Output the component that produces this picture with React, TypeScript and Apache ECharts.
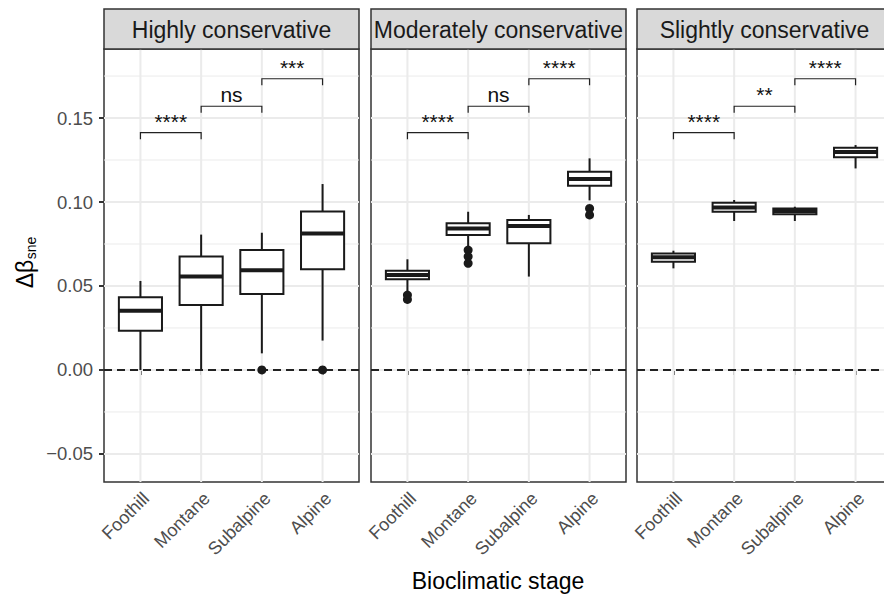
import React, { useEffect, useRef } from "react";
import * as echarts from "echarts";

const FONT = "'Liberation Sans', Arial, Helvetica, sans-serif";

const stages = ["Foothill", "Montane", "Subalpine", "Alpine"];
const panels = ["Highly conservative", "Moderately conservative", "Slightly conservative"];

// [lowerWhisker, Q1, median, Q3, upperWhisker] per stage
const highlyBoxes = [
  [0.0, 0.0234, 0.0353, 0.0433, 0.053],
  [0.0, 0.0387, 0.0556, 0.0675, 0.0806],
  [0.0099, 0.0452, 0.0593, 0.0714, 0.0817],
  [0.0175, 0.0599, 0.0813, 0.0944, 0.1107],
];
const moderatelyBoxes = [
  [0.0466, 0.054, 0.0565, 0.0591, 0.0659],
  [0.0734, 0.0804, 0.0843, 0.0873, 0.0942],
  [0.0556, 0.0754, 0.0857, 0.0893, 0.0923],
  [0.101, 0.1097, 0.1137, 0.118, 0.126],
];
const slightlyBoxes = [
  [0.0605, 0.0645, 0.0671, 0.0694, 0.071],
  [0.0887, 0.0942, 0.0968, 0.0996, 0.1012],
  [0.0887, 0.0927, 0.0946, 0.0962, 0.0972],
  [0.12, 0.1266, 0.1298, 0.1323, 0.1339],
];

// outliers: [stage position (1-4), value]
const highlyOutliers = [[3, 0], [4, 0]];
const moderatelyOutliers = [
  [1, 0.0446], [1, 0.042],
  [2, 0.0714], [2, 0.0675], [2, 0.0635],
  [4, 0.0962], [4, 0.0923],
];
const slightlyOutliers: number[][] = [];

// significance brackets
const bracketPairs = [[1, 2], [2, 3], [3, 4]];
const bracketY = [0.1413, 0.157, 0.1734];
const bracketTip = 0.0039;
const highlyLabels = ["****", "ns", "***"];
const moderatelyLabels = ["****", "ns", "****"];
const slightlyLabels = ["****", "**", "****"];

const yTicks = [-0.05, 0, 0.05, 0.1, 0.15];
const yMinor = [-0.025, 0.025, 0.075, 0.125, 0.175];
const xTicks = [1, 2, 3, 4];

const Y_MIN = -0.0667;
const Y_MAX = 0.1911;

const boxSets = [highlyBoxes, moderatelyBoxes, slightlyBoxes];
const outlierSets = [highlyOutliers, moderatelyOutliers, slightlyOutliers];
const labelSets = [highlyLabels, moderatelyLabels, slightlyLabels];

const PANEL_LEFT = [104, 371, 637];
const PANEL_W = 255;
const PANEL_TOP = 49;
const PANEL_H = 433;
const STRIP_TOP = 9;
const INK = "#1A1A1A";

function fmtY(v: number) {
  const s = Math.abs(v).toFixed(2);
  return v < -1e-9 ? "\u2212" + s : s;
}

function hlineSeries(gi: number, values: number[], stroke: string, width: number, z: number, dash?: number[]) {
  return {
    type: "custom",
    xAxisIndex: gi,
    yAxisIndex: gi,
    z,
    silent: true,
    data: values.map((v) => [1, v]),
    encode: { x: 0, y: 1 },
    renderItem: (params: any, api: any) => {
      const cs = params.coordSys;
      const y = api.coord([1, api.value(1)])[1];
      return {
        type: "line",
        shape: { x1: cs.x, y1: y, x2: cs.x + cs.width, y2: y },
        style: { stroke, lineWidth: width, lineDash: dash },
      };
    },
  };
}

function vlineSeries(gi: number, values: number[], stroke: string, width: number, z: number) {
  return {
    type: "custom",
    xAxisIndex: gi,
    yAxisIndex: gi,
    z,
    silent: true,
    data: values.map((v) => [v, 0]),
    encode: { x: 0, y: 1 },
    renderItem: (params: any, api: any) => {
      const cs = params.coordSys;
      const x = api.coord([api.value(0), 0])[0];
      return {
        type: "line",
        shape: { x1: x, y1: cs.y, x2: x, y2: cs.y + cs.height },
        style: { stroke, lineWidth: width },
      };
    },
  };
}

function boxSeries(gi: number, boxes: number[][]) {
  return {
    type: "custom",
    xAxisIndex: gi,
    yAxisIndex: gi,
    z: 3,
    silent: true,
    data: boxes.map((b, i) => [i + 1, ...b]),
    encode: { x: 0, y: [1, 2, 3, 4, 5] },
    renderItem: (params: any, api: any) => {
      const x = api.value(0);
      const lo = api.coord([x, api.value(1)]);
      const q1 = api.coord([x, api.value(2)]);
      const md = api.coord([x, api.value(3)]);
      const q3 = api.coord([x, api.value(4)]);
      const hi = api.coord([x, api.value(5)]);
      const hw = api.size([0.71, 0])[0] / 2;
      const cx = lo[0];
      return {
        type: "group",
        children: [
          { type: "line", shape: { x1: cx, y1: hi[1], x2: cx, y2: q3[1] }, style: { stroke: INK, lineWidth: 2 } },
          { type: "line", shape: { x1: cx, y1: q1[1], x2: cx, y2: lo[1] }, style: { stroke: INK, lineWidth: 2 } },
          {
            type: "rect",
            shape: { x: cx - hw, y: q3[1], width: hw * 2, height: q1[1] - q3[1] },
            style: { fill: "#ffffff", stroke: INK, lineWidth: 2 },
          },
          { type: "line", shape: { x1: cx - hw, y1: md[1], x2: cx + hw, y2: md[1] }, style: { stroke: INK, lineWidth: 4 } },
        ],
      };
    },
  };
}

function bracketSeries(gi: number, labels: string[]) {
  return {
    type: "custom",
    xAxisIndex: gi,
    yAxisIndex: gi,
    z: 6,
    silent: true,
    data: bracketPairs.map((p, i) => [p[0], p[1], bracketY[i], bracketY[i] - bracketTip]),
    encode: { x: [0, 1], y: [2, 3] },
    renderItem: (params: any, api: any) => {
      const a = api.coord([api.value(0), api.value(2)]);
      const b = api.coord([api.value(1), api.value(2)]);
      const t = api.coord([api.value(0), api.value(3)]);
      const label = labels[params.dataIndex];
      return {
        type: "group",
        children: [
          {
            type: "polyline",
            shape: { points: [[a[0], t[1]], [a[0], a[1]], [b[0], b[1]], [b[0], t[1]]] },
            style: { stroke: "#222", lineWidth: 1.2, fill: "none" },
          },
          {
            type: "text",
            x: (a[0] + b[0]) / 2,
            y: a[1] - 1,
            style: {
              text: label,
              fill: "#111",
              fontSize: 21,
              fontFamily: FONT,
              align: "center",
              verticalAlign: "bottom",
            },
          },
        ],
      };
    },
  };
}

export default function App() {
  const ref = useRef<HTMLDivElement>(null);

  useEffect(() => {
    document.body.style.margin = "0";
    if (!ref.current) return;
    const chart = echarts.init(ref.current, undefined, { renderer: "svg" });

    const grids = panels.map((_, i) => ({
      left: PANEL_LEFT[i],
      top: PANEL_TOP,
      width: PANEL_W,
      height: PANEL_H,
      show: true,
      backgroundColor: "#ffffff",
      borderColor: "#333333",
      borderWidth: 1.5,
      containLabel: false,
      outerBoundsMode: "none",
    }));

    const xAxes = panels.map((_, i) => ({
      type: "value",
      gridIndex: i,
      min: 0.4,
      max: 4.6,
      axisLine: { show: false },
      splitLine: { show: false },
      axisTick: {
        show: true,
        customValues: xTicks,
        length: 5,
        lineStyle: { color: "#333333", width: 2 },
      },
      axisLabel: {
        show: true,
        customValues: xTicks,
        formatter: (v: number) => stages[Math.round(v) - 1] || "",
        rotate: 45,
        color: "#4D4D4D",
        fontSize: 18,
        fontFamily: FONT,
        margin: 19,
        padding: [0, -8, 0, 0],
      },
    }));

    const yAxes = panels.map((_, i) => ({
      type: "value",
      gridIndex: i,
      min: Y_MIN,
      max: Y_MAX,
      axisLine: { show: false },
      splitLine: { show: false },
      axisTick: {
        show: i === 0,
        customValues: yTicks,
        length: 5,
        lineStyle: { color: "#333333", width: 2 },
      },
      axisLabel: {
        show: i === 0,
        customValues: yTicks,
        formatter: (v: number) => fmtY(v),
        color: "#4D4D4D",
        fontSize: 18.5,
        fontFamily: FONT,
        margin: 11,
      },
    }));

    const series: any[] = [];
    panels.forEach((_, i) => {
      series.push(hlineSeries(i, yMinor, "#EBEBEB", 1, 1));
      series.push(hlineSeries(i, yTicks, "#EBEBEB", 2, 1));
      series.push(vlineSeries(i, xTicks, "#EBEBEB", 2, 1));
      series.push(boxSeries(i, boxSets[i]));
      series.push(hlineSeries(i, [0], "#222222", 2, 4, [8, 5]));
      series.push({
        type: "scatter",
        xAxisIndex: i,
        yAxisIndex: i,
        z: 5,
        silent: true,
        symbol: "circle",
        symbolSize: 9,
        itemStyle: { color: INK, opacity: 1 },
        data: outlierSets[i],
      });
      series.push(bracketSeries(i, labelSets[i]));
    });

    const graphics: any[] = [];
    panels.forEach((name, i) => {
      graphics.push({
        type: "rect",
        shape: { x: PANEL_LEFT[i], y: STRIP_TOP, width: PANEL_W, height: PANEL_TOP - STRIP_TOP },
        style: { fill: "#D9D9D9", stroke: "#333333", lineWidth: 1.5 },
        z: 10,
      });
      graphics.push({
        type: "text",
        x: PANEL_LEFT[i] + PANEL_W / 2,
        y: (STRIP_TOP + PANEL_TOP) / 2 + 1,
        style: {
          text: name,
          fill: "#1A1A1A",
          fontSize: 23,
          fontFamily: FONT,
          align: "center",
          verticalAlign: "middle",
        },
        z: 11,
      });
    });
    graphics.push({
      type: "text",
      x: 25,
      y: 274,
      rotation: Math.PI / 2,
      style: { text: "\u0394\u03B2", fill: "#000", fontSize: 23, fontFamily: FONT, align: "center", verticalAlign: "middle" },
    });
    graphics.push({
      type: "text",
      x: 31,
      y: 248,
      rotation: Math.PI / 2,
      style: { text: "sne", fill: "#000", fontSize: 14, fontFamily: FONT, align: "center", verticalAlign: "middle" },
    });
    graphics.push({
      type: "text",
      x: 498,
      y: 581,
      style: {
        text: "Bioclimatic stage",
        fill: "#000",
        fontSize: 23,
        fontFamily: FONT,
        align: "center",
        verticalAlign: "middle",
      },
    });

    chart.setOption({
      animation: false,
      textStyle: { fontFamily: FONT },
      grid: grids,
      xAxis: xAxes,
      yAxis: yAxes,
      series,
      graphic: graphics,
    });

    return () => chart.dispose();
  }, []);

  return <div ref={ref} style={{ width: 884, height: 600, background: "#fff" }} />;
}
